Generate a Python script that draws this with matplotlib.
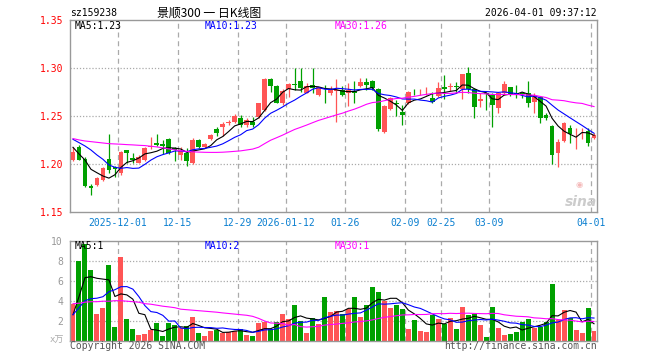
import matplotlib
matplotlib.use('Agg')
import matplotlib.pyplot as plt
import numpy as np
import pandas as pd

# daily K-line data, 2025-11-19 .. 2026-04-01 (88 trading days)
opens = [1.204, 1.218, 1.206, 1.177, 1.1785, 1.184, 1.206, 1.197, 1.191, 1.215,
         1.207, 1.2017, 1.204, 1.218, 1.222, 1.221, 1.226, 1.2167, 1.2097, 1.2115,
         1.2017, 1.225, 1.218, 1.2264, 1.2365, 1.239, 1.243, 1.2444, 1.248, 1.241,
         1.2444, 1.249, 1.2566, 1.289, 1.2816, 1.2642, 1.278, 1.2833, 1.2868, 1.2747,
         1.2826, 1.2719, 1.2747, 1.274, 1.276, 1.2774, 1.2747, 1.2767, 1.2816, 1.2861,
         1.2872, 1.2785, 1.234, 1.2573, 1.2635, 1.2549, 1.2635, 1.2757, 1.275, 1.275,
         1.2694, 1.2712, 1.2802, 1.2809, 1.2816, 1.2781, 1.2955, 1.2781, 1.2663, 1.274,
         1.2722, 1.2583, 1.274, 1.2809, 1.274, 1.274, 1.2747, 1.2653, 1.2705, 1.2514,
         1.2399, 1.2115, 1.2247, 1.2375, 1.2323, 1.2333, 1.2351, 1.2271]
highs = [1.218, 1.220, 1.208, 1.180, 1.187, 1.1975, 1.232, 1.198, 1.214, 1.215,
         1.2115, 1.2094, 1.218, 1.228, 1.2316, 1.2253, 1.227, 1.218, 1.218, 1.2167,
         1.227, 1.226, 1.222, 1.232, 1.239, 1.2444, 1.246, 1.2524, 1.251, 1.248,
         1.2497, 1.2642, 1.2896, 1.2896, 1.2826, 1.278, 1.2844, 1.3007, 1.300, 1.2844,
         1.300, 1.2809, 1.2826, 1.2816, 1.2885, 1.2816, 1.2844, 1.2872, 1.2896, 1.2896,
         1.2878, 1.2792, 1.2618, 1.2705, 1.267, 1.2618, 1.2767, 1.2781, 1.2781, 1.2802,
         1.2757, 1.2861, 1.2931, 1.2851, 1.2861, 1.2945, 1.3017, 1.2792, 1.274, 1.2745,
         1.2747, 1.2757, 1.2872, 1.2809, 1.2826, 1.2757, 1.2872, 1.274, 1.2712, 1.2531,
         1.241, 1.226, 1.2444, 1.241, 1.2375, 1.2375, 1.2375, 1.2323]
lows = [1.203, 1.2045, 1.1765, 1.168, 1.1775, 1.1825, 1.191, 1.1865, 1.189, 1.201,
        1.201, 1.201, 1.203, 1.2156, 1.219, 1.211, 1.211, 1.203, 1.2045, 1.198,
        1.200, 1.2167, 1.2167, 1.225, 1.229, 1.229, 1.241, 1.2434, 1.239, 1.239,
        1.239, 1.248, 1.2559, 1.2757, 1.2635, 1.2618, 1.270, 1.2774, 1.2757, 1.274,
        1.274, 1.2712, 1.2635, 1.2722, 1.2444, 1.2712, 1.2608, 1.2635, 1.2809, 1.2774,
        1.2774, 1.2351, 1.233, 1.2566, 1.2503, 1.241, 1.2628, 1.2722, 1.2722, 1.2722,
        1.2635, 1.2705, 1.2677, 1.2767, 1.274, 1.2677, 1.274, 1.2479, 1.2601, 1.2566,
        1.2392, 1.2538, 1.2722, 1.2712, 1.2688, 1.2688, 1.2601, 1.2531, 1.2427, 1.2462,
        1.2003, 1.1969, 1.2236, 1.2226, 1.2156, 1.226, 1.2191, 1.226]
closes = [1.213, 1.205, 1.1775, 1.175, 1.1855, 1.196, 1.194, 1.195, 1.213, 1.212,
          1.2045, 1.208, 1.2167, 1.219, 1.220, 1.219, 1.2115, 1.215, 1.214, 1.203,
          1.225, 1.218, 1.221, 1.2306, 1.233, 1.242, 1.2444, 1.250, 1.241, 1.246,
          1.241, 1.2635, 1.289, 1.2816, 1.2642, 1.2767, 1.2833, 1.2823, 1.280, 1.2816,
          1.2792, 1.2802, 1.274, 1.2774, 1.2774, 1.2722, 1.2774, 1.2747, 1.2861, 1.2826,
          1.2792, 1.2365, 1.2608, 1.2694, 1.2625, 1.2514, 1.2757, 1.275, 1.2757, 1.2757,
          1.2653, 1.2792, 1.2781, 1.2816, 1.2802, 1.294, 1.2781, 1.2601, 1.2677, 1.2733,
          1.2618, 1.274, 1.2837, 1.2722, 1.2729, 1.2733, 1.2635, 1.2705, 1.2479, 1.2479,
          1.2097, 1.2236, 1.2434, 1.2316, 1.233, 1.234, 1.2219, 1.2306]
# volume in 10k
volumes = [3.7, 8.0, 9.7, 7.1, 2.7, 3.3, 7.6, 1.4, 8.4, 2.2,
           1.15, 0.55, 0.7, 1.1, 1.8, 0.45, 1.8, 1.6, 1.3, 1.5,
           2.4, 0.8, 0.45, 1.0, 1.1, 0.8, 0.9, 1.0, 1.2, 0.6,
           0.5, 1.8, 1.9, 1.2, 1.9, 2.7, 2.2, 3.6, 2.0, 0.8,
           2.3, 1.7, 4.4, 2.9, 3.0, 2.7, 3.2, 4.4, 2.4, 3.6,
           5.4, 4.9, 4.0, 3.3, 3.6, 3.2, 1.2, 2.1, 1.0, 0.9,
           2.6, 2.2, 1.7, 2.3, 1.2, 3.4, 2.6, 2.7, 1.6, 0.4,
           3.4, 1.3, 0.57, 0.67, 0.9, 1.9, 2.2, 1.3, 1.4, 1.9,
           5.7, 2.1, 3.1, 2.3, 1.1, 0.8, 3.3, 0.97]

ma5_head = [1.2177, 1.2108, 1.2045, 1.1948]
ma10_head = [1.2260, 1.2226, 1.2191, 1.2149, 1.2097, 1.2052, 1.1993, 1.1969, 1.1958]
ma30_head = [1.2268, 1.2254, 1.2243, 1.2236, 1.2229, 1.2222, 1.2215, 1.2212, 1.2209, 1.2205,
             1.2202, 1.2198, 1.2195, 1.2188, 1.2181, 1.2171, 1.2160, 1.2150, 1.2142, 1.2135,
             1.2130, 1.2127, 1.2125, 1.2124, 1.2124, 1.2126, 1.2130, 1.2135, 1.2140]
vma5_head = [2.6, 4.4, 6.3, 6.4]
vma10_head = [2.6, 3.3, 4.0, 4.2, 4.25, 4.4, 4.9, 5.1, 5.4]
vma30_head = [3.7, 3.75, 3.85, 3.9, 3.9, 3.95, 3.95, 4.0, 4.0, 3.95,
              3.9, 3.85, 3.7, 3.65, 3.55, 3.45, 3.38, 3.3, 3.15, 3.1,
              3.05, 3.0, 2.95, 2.9, 2.85, 2.78, 2.72, 2.66, 2.6]

tick_idx = [8, 18, 28, 36, 46, 56, 62, 70, 87]
tick_labels = ['2025-12-01', '12-15', '12-29', '2026-01-12', '01-26',
               '02-09', '02-25', '03-09', '04-01']


def moving_avg(values, window, head):
    s = pd.Series(values).rolling(window).mean()
    s.iloc[:len(head)] = head
    return s.values


RED = '#ff5555'
GREEN = '#00a000'
GRID = '#aaaaaa'
MONO = ['DejaVu Sans Mono', 'Noto Sans CJK SC']
plt.rcParams['font.family'] = MONO

o = np.array(opens)
h = np.array(highs)
l = np.array(lows)
c = np.array(closes)
v = np.array(volumes)
x = np.arange(len(c))
cols = np.where(c >= o, RED, GREEN)

W, H = 660, 360
fig = plt.figure(figsize=(6.6, 3.6), dpi=100)


def fx(px):
    return px / W


def fy(py):
    return 1 - py / H


ax = fig.add_axes([fx(70), fy(212.3), fx(597) - fx(70), fy(20.3) - fy(212.3)])
axv = fig.add_axes([fx(70), fy(340.7), fx(597) - fx(70), fy(240.7) - fy(340.7)])

for a in (ax, axv):
    for sp in a.spines.values():
        sp.set_color('#999999')
        sp.set_linewidth(1)
    a.set_xlim(-0.5, len(c) - 0.5)
    for t in tick_idx:
        a.axvline(t - 0.5, color=GRID, lw=0.9, ls=(0, (4, 3)), zorder=0)

# price panel
for g in [1.20, 1.25, 1.30]:
    ax.axhline(g, color=GRID, lw=0.9, ls=(0, (1, 1.5)), zorder=0)
ax.vlines(x, l, h, colors=cols, lw=0.9, zorder=2)
ax.bar(x, np.maximum(np.abs(c - o), 0.0007), bottom=np.minimum(o, c), width=0.8,
       color=cols, lw=0, zorder=3)
ma5 = moving_avg(closes, 5, ma5_head)
ma10 = moving_avg(closes, 10, ma10_head)
ma30 = moving_avg(closes, 30, ma30_head)
ax.plot(x, ma5, color='black', lw=0.8, zorder=4)
ax.plot(x, ma10, color='#0000ff', lw=0.8, zorder=4)
ax.plot(x, ma30, color='#ff00ff', lw=0.8, zorder=4)
ax.set_ylim(1.15, 1.35)
ax.set_yticks([1.15, 1.20, 1.25, 1.30, 1.35])
ax.set_yticklabels(['%.2f' % t for t in [1.15, 1.20, 1.25, 1.30, 1.35]])
ax.tick_params(axis='y', length=0, pad=5, labelcolor='#ff0000', labelsize=7)
ax.set_xticks([t - 0.5 for t in tick_idx])
ax.set_xticklabels(tick_labels)
ax.tick_params(axis='x', length=0, pad=4, labelcolor='#0a7fd0', labelsize=7)

# volume panel
for g in [2, 4, 6, 8]:
    axv.axhline(g, color=GRID, lw=0.9, ls=(0, (1, 1.5)), zorder=0)
axv.bar(x, v, width=0.83, color=cols, lw=0, zorder=2)
vma5 = moving_avg(volumes, 5, vma5_head)
vma10 = moving_avg(volumes, 10, vma10_head)
vma30 = moving_avg(volumes, 30, vma30_head)
axv.plot(x, vma5, color='black', lw=0.8, zorder=4)
axv.plot(x, vma10, color='#0000ff', lw=0.8, zorder=4)
axv.plot(x, vma30, color='#ff00ff', lw=0.8, zorder=4)
axv.set_ylim(0, 10)
axv.set_yticks([2, 4, 6, 8, 10])
axv.tick_params(axis='y', length=0, pad=5, labelcolor='#999999', labelsize=7)
axv.set_xticks([])

# texts
fs = 7
fig.text(fx(70), fy(13), 'sz159238', fontsize=fs, va='center', ha='left')
fig.text(fx(209), fy(13), '景顺300 一 日K线图', fontsize=8.6, va='center', ha='center',
         family=['Noto Sans CJK SC', 'DejaVu Sans'])
fig.text(fx(597), fy(13), '2026-04-01 09:37:12', fontsize=fs, va='center', ha='right')

fig.text(fx(75), fy(26), 'MA5:%.2f' % ma5[-1], fontsize=fs, va='center', color='black')
fig.text(fx(205), fy(26), 'MA10:%.2f' % ma10[-1], fontsize=fs, va='center', color='#0000ff')
fig.text(fx(335), fy(26), 'MA30:%.2f' % ma30[-1], fontsize=fs, va='center', color='#ff00ff')

fig.text(fx(75), fy(246), 'MA5:%d' % int(vma5[-1]), fontsize=fs, va='center', color='black')
fig.text(fx(205), fy(246), 'MA10:%d' % int(vma10[-1]), fontsize=fs, va='center', color='#0000ff')
fig.text(fx(335), fy(246), 'MA30:%d' % int(vma30[-1]), fontsize=fs, va='center', color='#ff00ff')

fig.text(fx(64), fy(340), 'x万', fontsize=6.5, va='center', ha='right', color='#aaaaaa')
fig.text(fx(70), fy(346), 'Copyright 2026 SINA.COM', fontsize=fs, va='center', ha='left',
         color='#555555')
fig.text(fx(597), fy(346), 'http://finance.sina.com.cn', fontsize=fs, va='center', ha='right',
         color='#555555')

# sina watermark
fig.text(fx(579), fy(185), '◉', fontsize=6, va='center', ha='center', color='#f4b8b8',
         family=['DejaVu Sans'])
fig.text(fx(581), fy(202), 'sina', fontsize=10, va='center', ha='center', color='#cccccc',
         weight='bold', style='italic', family=['DejaVu Sans'])

plt.savefig('out.png', dpi=100, facecolor='white')
